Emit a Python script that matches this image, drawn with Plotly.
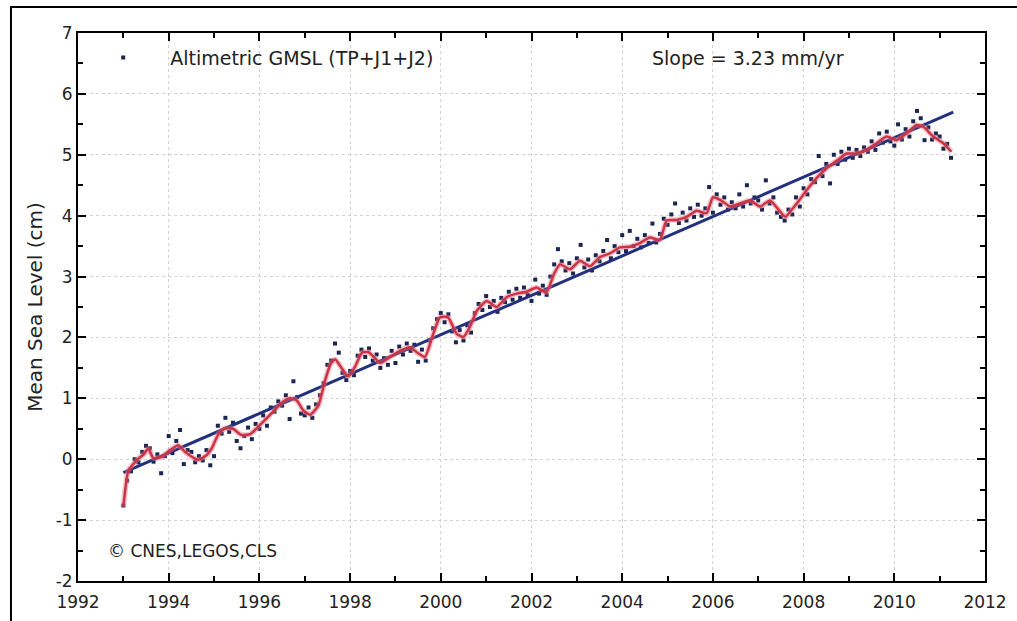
import plotly.graph_objects as go

# ---------------- data ----------------
dot_start = 1993.0
dot_step = 1.0 / 12.0
gmsl_dots = [
    # 1993
    -0.76, -0.35, -0.20, 0.00, -0.05, 0.12, 0.22, 0.18, -0.04, 0.08, -0.23, 0.05,
    # 1994
    0.38, 0.10, 0.30, 0.48, -0.08, 0.15, 0.12, -0.05, 0.05, -0.02, 0.15, -0.10,
    # 1995
    0.05, 0.55, 0.42, 0.68, 0.45, 0.60, 0.30, 0.18, 0.38, 0.52, 0.33, 0.58,
    # 1996
    0.50, 0.72, 0.55, 0.85, 0.78, 0.95, 0.88, 1.05, 0.66, 1.28, 1.02, 0.75,
    # 1997
    0.72, 0.85, 0.68, 0.90, 1.05, 1.25, 1.55, 1.62, 1.90, 1.75, 1.42, 1.30,
    # 1998
    1.45, 1.38, 1.70, 1.80, 1.68, 1.82, 1.62, 1.72, 1.50, 1.66, 1.55, 1.78,
    # 1999
    1.58, 1.85, 1.72, 1.90, 1.78, 1.88, 1.60, 1.80, 1.62, 1.95, 2.15, 2.30,
    # 2000
    2.40, 2.25, 2.38, 2.10, 1.92, 2.12, 1.95, 2.20, 2.08, 2.40, 2.55, 2.45,
    # 2001
    2.68, 2.50, 2.60, 2.42, 2.65, 2.58, 2.75, 2.62, 2.80, 2.65, 2.82, 2.70,
    # 2002
    2.60, 2.95, 2.72, 2.85, 2.70, 3.00, 3.20, 3.45, 3.25, 3.10, 3.22, 3.05,
    # 2003
    3.30, 3.52, 3.15, 3.28, 3.10, 3.35, 3.25, 3.42, 3.60, 3.30, 3.50, 3.40,
    # 2004
    3.68, 3.42, 3.75, 3.50, 3.62, 3.48, 3.68, 3.55, 3.87, 3.56, 3.70, 3.95,
    # 2005
    3.85, 4.02, 4.20, 3.88, 4.05, 3.92, 4.12, 3.98, 4.18, 4.00, 4.12, 4.47,
    # 2006
    4.05, 4.35, 4.18, 4.30, 4.10, 4.22, 4.12, 4.35, 4.15, 4.50, 4.20, 4.30,
    # 2007
    4.25, 4.10, 4.58, 4.20, 4.30, 4.05, 3.98, 3.92, 4.10, 4.02, 4.30, 4.15,
    # 2008
    4.45, 4.35, 4.60, 4.55, 4.98, 4.65, 4.85, 4.53, 5.00, 4.85, 5.05, 4.92,
    # 2009
    5.10, 4.95, 5.08, 4.98, 5.12, 5.05, 5.22, 5.08, 5.35, 5.20, 5.38, 5.22,
    # 2010
    5.15, 5.50, 5.25, 5.42, 5.30, 5.55, 5.72, 5.60, 5.24, 5.45, 5.25, 5.35,
    # 2011
    5.30, 5.10, 5.18, 4.95,
]
dot_years = [dot_start + i * dot_step for i in range(len(gmsl_dots))]

smooth_years = [
    1993.00, 1993.05, 1993.11, 1993.22, 1993.33, 1993.45, 1993.55, 1993.66, 1993.85,
    1994.03, 1994.21, 1994.36, 1994.51, 1994.65, 1994.84, 1994.95, 1995.10, 1995.24,
    1995.42, 1995.60, 1995.79, 1995.97, 1996.17, 1996.34, 1996.50, 1996.67, 1996.82,
    1996.97, 1997.12, 1997.30, 1997.45, 1997.58, 1997.67, 1997.81, 1997.96, 1998.11,
    1998.26, 1998.40, 1998.55, 1998.66, 1998.88, 1999.10, 1999.32, 1999.50, 1999.65,
    1999.83, 1999.98, 2000.16, 2000.35, 2000.50, 2000.64, 2000.79, 2001.01, 2001.23,
    2001.45, 2001.67, 2001.89, 2002.11, 2002.33, 2002.50, 2002.63, 2002.85, 2003.07,
    2003.29, 2003.51, 2003.73, 2003.95, 2004.17, 2004.39, 2004.61, 2004.83, 2004.98,
    2005.20, 2005.42, 2005.64, 2005.86, 2006.00, 2006.16, 2006.38, 2006.60, 2006.82,
    2007.04, 2007.26, 2007.48, 2007.60, 2007.72, 2007.90, 2008.10, 2008.30, 2008.51,
    2008.73, 2008.95, 2009.17, 2009.39, 2009.61, 2009.83, 2010.05, 2010.27, 2010.49,
    2010.64, 2010.86, 2011.08, 2011.26,
]
smooth_values = [
    -0.78, -0.45, -0.18, -0.08, 0.01, 0.08, 0.18, 0.02, 0.04,
    0.15, 0.23, 0.12, 0.04, -0.01, 0.07, 0.18, 0.42, 0.51,
    0.50, 0.40, 0.41, 0.53, 0.68, 0.81, 0.93, 1.00, 0.97,
    0.80, 0.73, 0.88, 1.30, 1.58, 1.64, 1.50, 1.36, 1.52,
    1.75, 1.76, 1.66, 1.58, 1.68, 1.78, 1.84, 1.74, 1.68,
    2.05, 2.33, 2.33, 2.06, 2.01, 2.17, 2.43, 2.60, 2.50,
    2.66, 2.72, 2.75, 2.82, 2.74, 3.05, 3.20, 3.12, 3.26,
    3.17, 3.32, 3.38, 3.48, 3.49, 3.55, 3.64, 3.60, 3.92,
    3.93, 3.98, 4.08, 4.04, 4.30, 4.26, 4.15, 4.20, 4.25,
    4.15, 4.25, 4.07, 3.98, 4.08, 4.25, 4.45, 4.63, 4.78,
    4.90, 5.02, 5.02, 5.08, 5.19, 5.30, 5.24, 5.35, 5.49,
    5.46, 5.30, 5.19, 5.05,
]

trend_years = [1993.0, 2011.3]
trend_values = [-0.22, 5.70]

x_ticks = [1992, 1994, 1996, 1998, 2000, 2002, 2004, 2006, 2008, 2010, 2012]
y_ticks = [-2, -1, 0, 1, 2, 3, 4, 5, 6, 7]

legend_label = "Altimetric GMSL (TP+J1+J2)"
slope_label = "Slope = 3.23 mm/yr"
credit_label = "© CNES,LEGOS,CLS"
y_title = "Mean Sea Level (cm)"

# ---------------- figure ----------------
FONT = "DejaVu Sans"
TXT = "#222"
fig = go.Figure()

fig.add_trace(go.Scatter(
    x=dot_years, y=gmsl_dots, mode="markers", name=legend_label,
    marker=dict(symbol="square", size=4, color="#1b2552"),
    showlegend=True,
))
fig.add_trace(go.Scatter(
    x=trend_years, y=trend_values, mode="lines", showlegend=False,
    line=dict(color="#22307e", width=3),
))
fig.add_trace(go.Scatter(
    x=smooth_years, y=smooth_values, mode="lines", showlegend=False,
    line=dict(color="rgba(230,120,140,0.45)", width=5.5, shape="spline", smoothing=0.5),
))
fig.add_trace(go.Scatter(
    x=smooth_years, y=smooth_values, mode="lines", showlegend=False,
    line=dict(color="#cc3344", width=2.5, shape="spline", smoothing=0.5),
))

axis_common = dict(
    showline=True, linecolor="black", linewidth=2, mirror="ticks",
    ticks="inside", ticklen=8, tickwidth=2, tickcolor="black",
    showgrid=True, gridcolor="#d2d2d2", griddash="dot", gridwidth=1,
    zeroline=False, automargin=False,
    tickfont=dict(family=FONT, size=17, color=TXT),
)

fig.update_xaxes(
    range=[1992, 2012], tickvals=x_ticks, ticktext=[str(v) for v in x_ticks],
    ticklabelstandoff=5,
    minor=dict(dtick=1, tick0=1992, ticks="inside", ticklen=5, tickwidth=2,
               tickcolor="black", showgrid=False),
    **axis_common,
)
fig.update_yaxes(
    range=[-2, 7], tickvals=y_ticks, ticktext=[str(v) for v in y_ticks],
    minor=dict(dtick=0.5, tick0=0, ticks="inside", ticklen=5, tickwidth=2,
               tickcolor="black", showgrid=False),
    title=dict(text=y_title, font=dict(family=FONT, size=20, color=TXT), standoff=8),
    **axis_common,
)

fig.add_annotation(
    text=slope_label, xref="paper", yref="paper", x=0.739, y=0.955,
    xanchor="center", yanchor="middle", showarrow=False,
    font=dict(family=FONT, size=19, color=TXT),
)
fig.add_annotation(
    text=credit_label, xref="paper", yref="paper", x=0.031, y=0.055,
    xanchor="left", yanchor="middle", showarrow=False,
    font=dict(family=FONT, size=17, color=TXT),
)

# outer frame of the picture
fig.add_shape(type="rect", xref="paper", yref="paper",
              x0=-0.0739, x1=1.2, y0=-0.2, y1=1.0474,
              line=dict(color="black", width=2), fillcolor="rgba(0,0,0,0)", layer="below")

fig.update_layout(
    width=1017, height=621,
    margin=dict(l=78, r=32, t=33, b=40),
    paper_bgcolor="white", plot_bgcolor="white",
    font=dict(family=FONT, color=TXT),
    legend=dict(x=-0.002, y=0.955, xanchor="left", yanchor="middle",
                bgcolor="rgba(0,0,0,0)", itemwidth=84,
                font=dict(family=FONT, size=19, color=TXT)),
)

fig.write_html("out.html", config={"displayModeBar": False},
               post_script="document.body.style.margin='0';document.body.style.padding='0';")
